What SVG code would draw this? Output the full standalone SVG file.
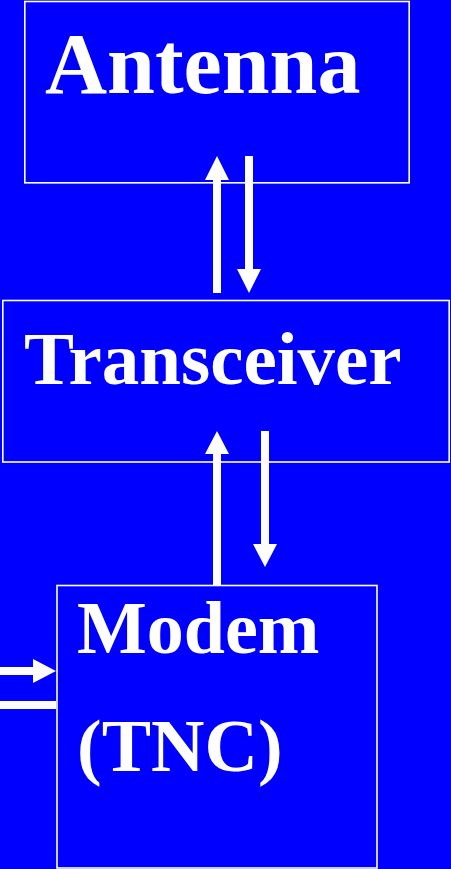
<svg xmlns="http://www.w3.org/2000/svg" width="451" height="869" viewBox="0 0 451 869">
<style>
.box{fill:none;stroke:#fff;stroke-width:1.6}
.lbl{fill:#fff;font-family:"Liberation Serif","Times New Roman",serif;font-weight:bold}
.arr{fill:#fff}
</style>
<rect width="451" height="869" fill="#0000ff"/>
<g id="antenna">
<rect class="box" x="24.8" y="1.5" width="384.4" height="181.3"/>
<text class="lbl" x="45" y="93" font-size="86">Antenna</text>
</g>
<g id="transceiver">
<rect class="box" x="2.8" y="300.5" width="446.4" height="161.5"/>
<text class="lbl" x="24" y="384" font-size="75">Transceiver</text>
</g>
<g id="modem">
<rect class="box" x="57" y="585.5" width="320" height="282.5"/>
<text class="lbl" x="77" y="653" font-size="74">Modem</text>
<text class="lbl" x="77" y="771" font-size="74">(TNC)</text>
</g>
<g id="connectors">
<polygon class="arr" points="213,293 213,180 205,180 217,156 229,180 221,180 221,293"/>
<polygon class="arr" points="245,156 253,156 253,269 261,269 249,293 237,269 245,269"/>
<polygon class="arr" points="213,585 213,454 205,454 217,431 229,454 221,454 221,585"/>
<polygon class="arr" points="261,431 269,431 269,544 277,544 265,567 253,544 261,544"/>
<polygon class="arr" points="0,667 33,667 33,659 56,671 33,683 33,675 0,675"/>
<rect class="arr" x="0" y="701" width="56" height="8"/>
</g>
</svg>
